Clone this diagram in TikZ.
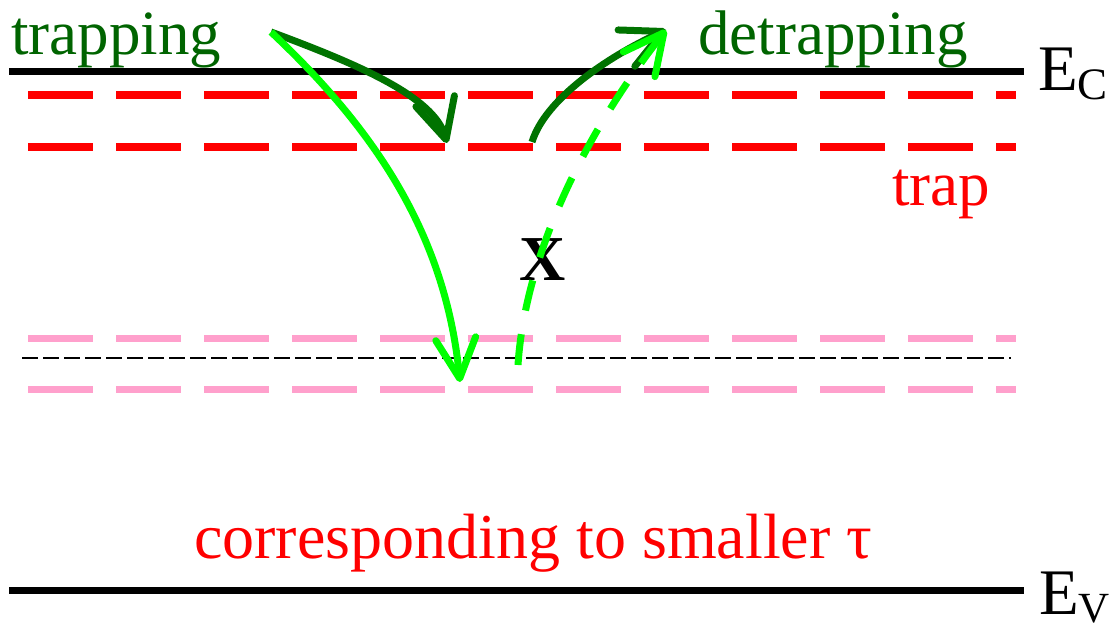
\documentclass[tikz,border=0pt]{standalone}
\usepackage{fontspec}
\setmainfont{Liberation Serif}
\newfontfamily\tms{Liberation Serif}
\usetikzlibrary{arrows.meta}
\definecolor{dgreen}{RGB}{0,115,0}
\definecolor{tgreen}{RGB}{0,100,0}
\definecolor{lgreen}{RGB}{0,255,0}
\definecolor{pinkish}{RGB}{255,160,204}
\begin{document}
\begin{tikzpicture}[x=1pt,y=-1pt,
  level/.style={black,line width=7pt},
  reddash/.style={red,line width=8pt,dash pattern=on 65pt off 23pt},
  pinkdash/.style={pinkish,line width=7pt,dash pattern=on 65pt off 23pt},
  thindash/.style={black,line width=2pt,dash pattern=on 16pt off 5pt},
  barb/.style={-{Straight Barb[length=40pt,width=40pt,round]}},
  lbl/.style={inner sep=0pt,font=\tms\fontsize{63}{70}\selectfont},
  elbl/.style={inner sep=0pt,font=\tms\fontsize{65}{70}\selectfont}
]
\useasboundingbox (0,0) rectangle (1118,626);
% level coordinates
\coordinate (ecL) at (9,71);    \coordinate (ecR) at (1024,71);
\coordinate (evL) at (9,590);   \coordinate (evR) at (1024,590);
\coordinate (r1L) at (28,95);   \coordinate (r1R) at (1016,95);
\coordinate (r2L) at (28,147);  \coordinate (r2R) at (1016,147);
\coordinate (p1L) at (28,338);  \coordinate (p1R) at (1016,338);
\coordinate (p2L) at (28,389);  \coordinate (p2R) at (1016,389);
\coordinate (mL) at (22,358);   \coordinate (mR) at (1011,358);
% levels
\draw[level] (ecL) -- (ecR);
\draw[level] (evL) -- (evR);
\draw[reddash] (r1L) -- (r1R);
\draw[reddash] (r2L) -- (r2R);
\draw[pinkdash] (p1L) -- (p1R);
\draw[pinkdash] (p2L) -- (p2R);
\draw[thindash] (mL) -- (mR);
% labels
\node[lbl,text=tgreen,anchor=base west] (trapping) at (11,55) {trapping};
\node[lbl,text=tgreen,anchor=base west] (detrapping) at (698,55) {detrapping};
\node[lbl,text=red,anchor=base west] (trap) at (892,205) {trap};
\node[lbl,text=red,anchor=base west,font=\tms\fontsize{64}{70}\selectfont] (corr) at (194,558) {corresponding to smaller τ};
\node[elbl,anchor=base west] (ec) at (1038,90) {E\raisebox{-9pt}{\fontsize{45}{50}\selectfont C}};
\node[elbl,anchor=base west] (ev) at (1039,614) {E\raisebox{-8pt}{\fontsize{43}{50}\selectfont V}};
\node[inner sep=0pt,anchor=base west,font=\tms\fontsize{64}{70}\selectfont\bfseries] (x) at (519,280) {X};
% arrow end points
\coordinate (tS) at (271,32);
\coordinate (tE1) at (447,143);
\coordinate (tE2) at (460,382);
\coordinate (dS1) at (532,142);
\coordinate (dS2) at (518,365);
\coordinate (dE) at (666,30);
% arrows
\draw[dgreen,line width=7pt,barb] (tS) .. controls (360,65) and (434,97) .. (tE1);
\draw[lgreen,line width=7pt,barb] (tS) .. controls (370,125) and (445,230) .. (tE2);
\draw[dgreen,line width=7pt,barb] (dS1) .. controls (545,100) and (605,58) .. (dE);
\draw[lgreen,line width=7pt,barb,dash pattern=on 31pt off 24pt] (dS2) .. controls (524,270) and (572,150) .. (dE);
\end{tikzpicture}
\end{document}
